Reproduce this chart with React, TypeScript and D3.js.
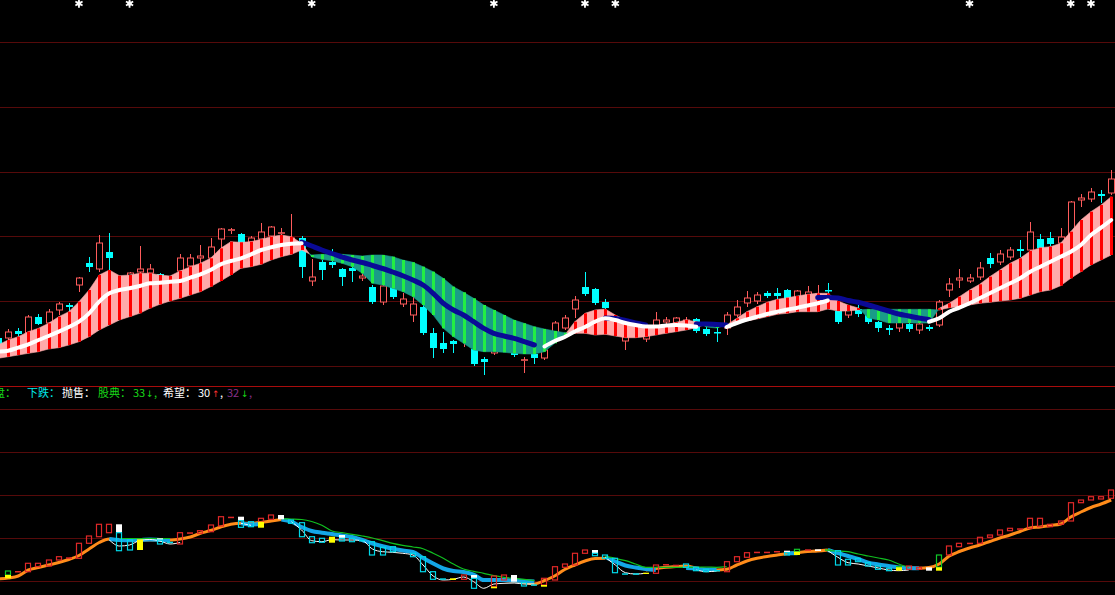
import React from "react";
import * as d3 from "d3";

type N_ = number | null;
const _ = null;

// ---------- main panel: candles (price units) ----------
const open = [6.2,
  6.2, 6.9, 6.7, 8.3, 7.7, 9.0, 9.5, 11.5, 13.7, 13.1,
  14.8, 12.3, 12.3, 12.8, 12.7, 12.6, 12.2, 12.9, 13.4, 14.2,
  14.2, 16.1, 16.9, 16.6, 15.8, 16.1, 16.4, 16.6, 15.8, 16.2,
  11.9, 13.8, 13.8, 13.1, 13.2, 12.2, 11.3, 9.8, 11.3, 9.6,
  8.5, 9.3, 6.7, 5.7, 5.9, 6.1, 5.1, 4.1, 4.7, 5.2,
  4.9, 3.9, 4.6, 4.2, 6.7, 7.2, 9.1, 11.3, 11.1, 9.8,
  8.2, 5.9, 6.3, 6.1, 7.4, 7.8, 7.7, 7.2, 8.1, 7.1,
  6.8, 7.2, 8.5, 9.7, 9.9, 10.7, 10.7, 11.0, 10.2, 10.2,
  10.2, 11.0, 8.9, 8.5, 9.1, 8.6, 7.8, 7.2, 7.2, 7.6,
  7.0, 7.3, 7.5, 11.0, 12.0, 11.9, 12.3, 14.2, 13.8, 14.3,
  15.1, 15.0, 16.1, 16.2, 15.7, 15.5, 20.0, 20.1, 20.6, 20.7];
const close = [5.6,
  6.8, 6.6, 8.3, 7.6, 8.8, 9.6, 9.3, 12.2, 13.3, 15.7,
  14.2, 11.0, 12.7, 13.1, 13.1, 12.3, 11.9, 14.2, 14.2, 14.4,
  15.3, 17.1, 17.0, 15.7, 16.2, 16.8, 17.3, 16.7, 16.2, 13.3,
  12.3, 13.0, 13.5, 12.3, 12.9, 12.4, 9.8, 11.4, 10.3, 10.1,
  9.6, 6.7, 5.2, 5.1, 5.6, 6.2, 3.6, 3.8, 5.2, 5.0,
  4.5, 4.0, 4.2, 5.0, 7.7, 8.2, 10.0, 10.6, 9.7, 9.2,
  7.0, 6.4, 6.4, 6.5, 8.0, 8.0, 8.2, 8.0, 6.9, 6.6,
  6.7, 8.5, 9.3, 10.2, 10.5, 10.4, 10.4, 10.1, 10.9, 10.8,
  10.6, 10.9, 7.8, 9.1, 8.6, 7.8, 7.2, 7.0, 7.8, 7.1,
  7.6, 7.1, 9.8, 11.6, 12.2, 12.2, 13.2, 13.6, 14.6, 15.0,
  14.9, 16.8, 15.2, 15.6, 16.3, 19.8, 20.2, 20.8, 20.4, 22.1];
const high = [6.3,
  7.1, 7.2, 8.5, 8.6, 9.1, 9.8, 9.7, 12.3, 14.3, 16.5,
  16.7, 12.4, 12.8, 15.4, 13.6, 12.7, 12.3, 14.6, 14.6, 15.5,
  16.2, 17.2, 17.2, 16.7, 16.4, 17.7, 17.4, 17.2, 18.6, 16.4,
  14.1, 14.0, 15.1, 13.2, 14.0, 12.7, 11.5, 11.5, 11.5, 10.7,
  10.6, 9.5, 7.2, 6.8, 6.0, 6.2, 5.4, 4.3, 5.5, 5.3,
  5.0, 4.3, 4.8, 5.2, 7.9, 8.5, 10.4, 12.8, 11.2, 10.1,
  8.4, 6.5, 7.3, 6.6, 8.8, 8.3, 8.3, 8.3, 8.2, 7.3,
  7.2, 8.8, 10.0, 10.9, 10.8, 10.9, 11.2, 11.1, 11.0, 11.4,
  11.5, 11.7, 9.0, 9.2, 9.5, 8.8, 7.9, 7.5, 8.0, 7.8,
  7.8, 7.5, 10.0, 12.2, 13.1, 12.6, 13.8, 14.7, 15.0, 15.3,
  16.0, 17.8, 16.6, 16.8, 17.2, 19.9, 20.6, 21.2, 21.0, 23.0];
const low = [5.4,
  5.8, 6.4, 6.4, 7.5, 7.5, 8.5, 8.8, 10.8, 12.8, 12.8,
  13.0, 10.8, 12.0, 12.6, 12.5, 12.0, 11.6, 12.7, 13.2, 13.5,
  13.8, 15.2, 16.6, 15.5, 15.6, 15.9, 16.2, 16.3, 15.5, 12.2,
  11.4, 12.0, 13.2, 11.4, 11.8, 11.9, 9.6, 9.5, 10.1, 9.3,
  7.8, 6.5, 4.2, 4.7, 4.7, 5.3, 3.4, 2.5, 4.5, 4.9,
  4.3, 2.7, 3.6, 4.0, 6.5, 7.0, 8.2, 10.4, 9.5, 9.0,
  6.8, 5.0, 6.2, 5.8, 7.2, 7.5, 7.5, 7.0, 6.7, 6.4,
  5.8, 6.5, 8.3, 9.3, 9.6, 10.2, 10.0, 9.9, 10.0, 10.0,
  9.9, 10.3, 7.6, 8.2, 8.3, 7.6, 6.8, 6.5, 6.8, 6.8,
  6.6, 6.9, 7.3, 10.3, 11.2, 11.7, 12.0, 13.2, 13.5, 14.0,
  14.3, 14.8, 15.0, 15.4, 15.5, 15.3, 19.3, 19.8, 19.7, 20.5];

// band: fast / slow lines
const fast = [5.5,
  6.0, 6.33, 6.83, 7.17, 7.67, 8.33, 8.83, 9.83, 11.0, 12.5,
  13.0, 12.43, 12.5, 12.67, 12.67, 12.5, 12.4, 12.9, 13.33, 13.67,
  14.17, 15.17, 15.83, 15.77, 15.83, 16.07, 16.33, 16.5, 16.33, 15.67,
  14.3, 14.07, 13.93, 13.67, 13.33, 12.67, 11.67, 11.5, 11.17, 10.83,
  10.33, 9.5, 8.5, 7.17, 6.33, 5.67, 5.0, 4.83, 4.83, 4.77,
  4.67, 4.6, 4.6, 4.83, 5.67, 6.5, 7.83, 8.67, 9.0, 9.1,
  8.5, 8.0, 7.67, 7.33, 7.33, 7.5, 7.77, 8.0, 7.83, 7.3,
  7.2, 7.5, 8.17, 8.83, 9.33, 9.77, 10.07, 10.23, 10.4, 10.57,
  10.67, 10.67, 9.9, 9.5, 9.2, 8.2, 8.0, 7.7, 7.7, 7.7,
  7.7, 7.7, 9.17, 9.67, 10.33, 11.0, 11.57, 12.33, 13.0, 13.67,
  14.17, 14.9, 15.23, 15.33, 15.67, 16.83, 18.0, 18.83, 19.5, 20.33];
const slow = [4.17,
  4.33, 4.5, 4.67, 4.83, 5.1, 5.23, 5.5, 5.83, 6.33, 7.0,
  7.5, 8.0, 8.33, 8.67, 9.17, 9.57, 9.9, 10.17, 10.5, 10.83,
  11.33, 11.9, 12.5, 13.17, 13.33, 13.57, 14.0, 14.33, 14.57, 15.0,
  14.5, 14.57, 14.57, 14.57, 14.5, 14.4, 14.5, 14.5, 14.33, 14.0,
  13.77, 13.33, 12.83, 12.17, 11.33, 10.77, 10.17, 9.5, 9.0, 8.5,
  8.0, 7.67, 7.33, 7.1, 6.9, 6.73, 6.67, 6.67, 6.5, 6.57,
  6.4, 6.23, 6.23, 6.33, 6.5, 6.67, 6.83, 7.0, 7.23, 7.6,
  7.5, 7.4, 7.67, 7.9, 8.1, 8.33, 8.57, 8.67, 8.83, 8.83,
  8.83, 9.1, 8.9, 8.9, 9.0, 9.07, 9.07, 9.07, 9.07, 9.07,
  9.07, 9.07, 9.0, 9.23, 9.33, 9.5, 9.67, 9.77, 9.9, 10.0,
  10.17, 10.5, 10.83, 11.0, 11.43, 12.17, 12.83, 13.5, 14.0, 14.5];

const whiteLine: N_[] = [4.83,
  4.93, 5.23, 5.57, 6.0, 6.4, 6.83, 7.3, 7.83, 8.67, 9.83,
  10.67, 11.0, 11.17, 11.4, 11.67, 11.73, 11.83, 11.9, 12.23, 12.57,
  13.0, 13.57, 13.9, 14.17, 14.57, 15.0, 15.27, 15.5, 15.63, 15.67,
  _, _, _, _, _, _, _, _, _, _,
  _, _, _, _, _, _, _, _, _, _,
  _, _, _, 5.35, 5.9, 6.3, 6.85, 7.3, 7.83, 8.17,
  8.0, 7.7, 7.5, 7.35, 7.35, 7.45, 7.5, 7.45, 7.33, _,
  _, 7.3, 7.7, 8.05, 8.33, 8.6, 8.83, 9.05, 9.23, 9.45,
  9.67, 9.95, _, _, _, _, _, _, _, _,
  _, 7.83, 8.17, 8.83, 9.23, 9.67, 10.17, 10.67, 11.17, 11.67,
  12.17, 12.83, 13.33, 13.83, 14.33, 14.83, 15.5, 16.5, 17.23, 18.0];
const blueLine: N_[] = [_,
  _, _, _, _, _, _, _, _, _, _,
  _, _, _, _, _, _, _, _, _, _,
  _, _, _, _, _, _, _, _, _, 15.8,
  15.4, 15.0, 14.65, 14.3, 14.0, 13.75, 13.45, 13.15, 12.8, 12.43,
  12.0, 11.5, 10.67, 9.67, 9.0, 8.5, 7.83, 7.17, 6.67, 6.4,
  6.17, 5.83, 5.5, _, _, _, _, _, _, 8.2,
  8.15, 7.95, 7.7, 7.5, _, _, _, _, 7.6, 7.6,
  7.55, 7.5, _, _, _, _, _, _, _, _,
  10.25, 10.25, 10.2, 9.95, 9.77, 9.5, 9.2, 8.9, 8.6, 8.4,
  8.2, 8.05, _, _, _, _, _, _, _, _,
  _, _, _, _, _, _, _, _, _, _];

const markIdx = [8, 13, 31, 49, 58, 61, 96, 106, 108];

// ---------- lower panel (indicator units) ----------
const orangeLine: N_[] = [2.1,
  2.2, 2.4, 3.0, 3.25, 3.5, 3.75, 4.05, 4.45, 5.1, 5.75,
  6.1, 6.0, 6.0, 6.0, 6.0, 6.0, 6.0, 6.1, 6.3, 6.67,
  6.95, 7.3, 7.57, 7.67, 7.67, 7.75, 7.9, 8.05, _, _,
  _, _, _, _, _, _, _, _, _, _,
  _, _, _, _, _, _, _, 2.0, 2.0, 1.95,
  1.9, 1.75, 1.6, 1.95, 2.4, 3.05, 3.5, 3.9, 4.15, 4.17,
  _, _, _, 3.0, 3.15, 3.27, 3.35, 3.4, 3.2, 3.05,
  3.0, 3.07, 3.5, 3.9, 4.17, 4.35, 4.5, 4.65, 4.75, 4.85,
  4.9, 5.0, _, _, _, _, _, _, 3.27, 3.22,
  3.17, 3.25, 3.6, 4.4, 4.85, 5.2, 5.5, 5.85, 6.2, 6.5,
  6.85, 7.2, 7.3, 7.45, 7.6, 8.3, 8.8, 9.25, 9.6, 10.0];
const skyLine: N_[] = [_,
  _, _, _, _, _, _, _, _, _, _,
  6.1, 6.0, 5.97, 6.0, 6.05, 6.0, 5.95, _, _, _,
  _, _, _, 7.67, 7.55, 7.6, _, 8.05, 7.83, 7.3,
  6.9, 6.73, 6.6, 6.45, 6.3, 6.0, 5.65, 5.37, 5.13, 4.95,
  4.8, 4.2, 3.65, 3.15, 2.9, 2.8, 2.55, 2.0, 2.0, 2.0,
  1.95, 1.9, 1.85, _, _, _, _, _, _, 4.3,
  3.85, 3.45, 3.25, 3.1, 3.0, _, _, 3.2, 3.15, 3.05,
  3.05, _, _, _, _, _, _, 4.67, 4.67, _,
  _, 5.0, 4.7, 4.4, 4.1, 3.73, 3.55, 3.4, 3.25, 3.2,
  3.17, _, _, _, _, _, _, _, _, _,
  _, _, _, _, _, _, _, _, _, _];
const greenLine: N_[] = [_,
  _, _, _, _, _, _, _, _, _, _,
  _, 6.15, 6.15, 6.15, 6.15, 6.15, 6.15, _, _, _,
  _, _, _, _, _, _, _, 8.13, 8.1, 8.05,
  7.85, 7.47, 6.9, 6.73, 6.57, 6.4, 6.2, 5.93, 5.67, 5.47,
  5.3, 5.13, 4.67, 4.17, 3.6, 3.1, 2.87, 2.67, 2.43, 2.27,
  2.17, 2.07, 1.93, _, _, _, _, _, _, 4.33,
  4.17, 3.93, 3.6, 3.27, 3.27, 3.27, 3.27, 3.27, 3.27, 3.3,
  3.27, 3.33, _, _, _, _, _, _, _, _,
  _, 4.93, 4.9, 4.83, 4.6, 4.4, 4.2, 4.0, 3.6, 3.27,
  _, _, _, _, _, _, _, _, _, _,
  _, _, _, _, _, _, _, _, _, _];
const thinWhite: N_[] = [_,
  _, _, _, _, _, _, _, _, _, _,
  6.0, 5.4, 5.5, 5.95, 6.05, 5.9, 5.6, 5.75, _, _,
  _, _, _, 7.67, 7.47, _, _, _, 7.83, 7.0,
  5.93, 5.83, 6.03, 6.0, 6.0, 5.93, 5.1, 4.83, 4.77, 4.67,
  4.5, 3.5, 2.4, 2.0, 2.07, 2.3, 1.83, 1.17, 1.6, 1.67,
  1.7, 1.6, 1.6, _, _, _, _, _, _, 4.27,
  3.5, 2.73, 2.6, 2.67, _, _, _, _, 3.0, 2.83,
  2.9, _, _, _, _, _, _, _, _, _,
  _, 4.93, 4.27, 3.73, 3.6, 3.4, 3.2, 3.0, 2.93, 3.0,
  _, _, _, _, _, _, _, _, _, _,
  _, _, _, _, _, _, _, _, _, _];

const boxKind = ["",
  "g", "r", "r", "r", "r", "r", "r", "r", "r", "r",
  "r", "w", "c", "y", "", "w", "c", "r", "r", "r",
  "r", "r", "r", "w", "c", "r", "r", "w", "c", "c",
  "c", "c", "y", "w", "c", "c", "c", "c", "c", "",
  "c", "c", "c", "c", "y", "r", "w", "", "r", "r",
  "w", "c", "c", "r", "r", "r", "r", "r", "w", "c",
  "c", "c", "c", "y", "r", "r", "r", "c", "c", "c",
  "c", "r", "r", "r", "r", "r", "r", "w", "g", "r",
  "w", "g", "c", "c", "c", "c", "c", "c", "g", "r",
  "r", "w", "g", "r", "r", "r", "r", "r", "r", "r",
  "r", "r", "r", "r", "r", "r", "r", "r", "r", "r"];
const boxHi: N_[] = [_,
  2.9, 2.9, 3.67, 3.67, 4.0, 4.33, 4.27, 5.67, 6.4, 7.57,
  7.57, 7.57, 6.0, 6.07, _, 6.17, 5.83, 6.73, 6.77, 6.93,
  7.5, 8.33, 8.33, 8.33, 7.83, 8.17, 8.5, 8.5, 8.0, 7.73,
  6.33, 6.17, 6.33, 6.5, 6.17, 6.0, 5.83, 5.27, 5.33, _,
  4.67, 4.33, 2.83, 2.17, 2.17, 2.5, 2.5, _, 2.4, 2.5,
  2.5, 1.73, 1.57, 2.17, 3.33, 3.6, 4.67, 5.0, 5.0, 4.5,
  4.17, 2.67, 2.67, 2.73, 3.5, 3.6, 3.53, 3.6, 3.27, 3.07,
  3.0, 3.83, 4.33, 4.73, 4.83, 4.83, 4.9, 4.93, 5.07, 5.07,
  5.07, 5.07, 4.93, 4.07, 4.17, 3.73, 3.4, 3.17, 3.4, 3.4,
  3.27, 3.27, 4.5, 5.4, 5.67, 5.73, 6.27, 6.5, 7.0, 7.17,
  7.17, 8.17, 8.17, 7.57, 7.9, 9.73, 10.0, 10.33, 10.33, 11.0];
const boxLo: N_[] = [_,
  2.5, 2.73, 2.83, 3.33, 3.4, 4.0, 4.13, 4.17, 5.67, 6.33,
  6.73, 6.73, 5.0, 5.0, _, 6.0, 5.67, 5.6, 6.67, 6.67,
  6.83, 7.4, 8.23, 7.93, 7.33, 7.83, 8.07, 8.07, 7.67, 6.33,
  5.73, 5.77, 5.73, 6.17, 5.83, 5.9, 4.5, 4.5, 4.83, _,
  4.33, 2.83, 2.07, 2.0, 2.0, 2.07, 2.17, _, 1.33, 2.0,
  1.83, 1.4, 1.4, 1.5, 2.0, 3.27, 3.5, 4.67, 4.67, 4.17,
  2.73, 2.5, 2.57, 2.6, 2.67, 3.47, 3.4, 3.27, 2.93, 2.83,
  2.83, 2.83, 3.83, 4.27, 4.73, 4.77, 4.77, 4.73, 4.83, 4.93,
  4.9, 4.9, 3.5, 3.5, 3.83, 3.4, 3.07, 2.93, 3.27, 3.07,
  3.07, 2.93, 3.27, 4.5, 5.33, 5.63, 5.67, 6.27, 6.5, 6.93,
  7.1, 7.17, 7.33, 7.33, 7.57, 7.9, 9.73, 10.0, 10.1, 10.17];

const box2Idx = [1, 12, 16, 24, 26, 34, 47, 49, 54, 59, 78, 79, 89, 93];
const box2Hi = [2.5, 6.73, 6.0, 7.93, 7.83, 6.17, 2.17, 1.33, 1.5, 4.67, 4.73, 4.83, 3.27, 3.27];
const box2Lo = [2.17, 4.93, 5.6, 7.27, 7.23, 5.9, 1.17, 1.17, 1.33, 4.43, 4.5, 4.5, 2.93, 2.93];
const box2Kind = ["y", "c", "c", "c", "y", "c", "c", "y", "y", "c", "c", "y", "y", "y"];

const legendItems = [
  { t: "盘：", c: "#18d818", dx: -6, arrow: false },
  { t: "下跌：", c: "#00e8e8", dx: 27, arrow: false },
  { t: "抛售：", c: "#ffffff", dx: 62, arrow: false },
  { t: "股典：", c: "#18d818", dx: 98, arrow: false },
  { t: "33", c: "#18d818", dx: 133, arrow: false },
  { t: "↓", c: "#18d818", dx: 146, arrow: true },
  { t: ",", c: "#18d818", dx: 154, arrow: false },
  { t: "希望：", c: "#ffffff", dx: 163, arrow: false },
  { t: "30", c: "#ffffff", dx: 198, arrow: false },
  { t: "↑", c: "#ff3030", dx: 212, arrow: true },
  { t: ",", c: "#ffffff", dx: 220, arrow: false },
  { t: "32", c: "#883088", dx: 227, arrow: false },
  { t: "↓", c: "#18d818", dx: 241, arrow: true },
  { t: ",", c: "#883088", dx: 249, arrow: false },
];

const W = 1115, H = 595;
const N = open.length;
const xs = d3.scaleLinear().domain([0, N - 1]).range([-2, 1111.2]);
const yP = d3.scaleLinear().domain([0, 40]).range([400, 0]);
const yV = d3.scaleLinear().domain([0, 60]).range([600, 0]);
const mainGrid = d3.range(6).map((i) => 3.4 + 6.48 * i);
const lowGrid = d3.range(5).map((i) => 1.9 + 4.3 * i);

const C = {
  grid: "#560a0a",
  sep: "#a80c0c",
  up: "#ff5c5c",
  down: "#00ffff",
  pink: "#ffaaaa",
  teal: "#1a9c88",
  redStripe: "#ff0000",
  greenStripe: "#22ee44",
  white: "#ffffff",
  navy: "#0a0a96",
  orange: "#ff8c1a",
  sky: "#14a6e6",
  green: "#10c020",
  boxR: "#e02828",
  boxC: "#00d8e8",
  boxG: "#10c828",
  boxW: "#ffffff",
  boxY: "#ffff00",
};

function mkLine(scale: (v: number) => number) {
  return d3
    .line<N_>()
    .defined((v) => v != null)
    .x((_v, i) => xs(i))
    .y((v) => scale(v as number))
    .curve(d3.curveMonotoneX);
}

function LowBox({ k, hi, lo, kind }: { k: number; hi: number; lo: number; kind: string }) {
  const cx = Math.round(xs(k));
  const y1 = yV(hi), y2 = yV(lo);
  const h = Math.max(1, y2 - y1);
  if (kind === "w" || kind === "y") {
    return <rect x={cx - 3} y={y1} width={6} height={h} fill={kind === "w" ? C.boxW : C.boxY} />;
  }
  const col = kind === "r" ? C.boxR : kind === "c" ? C.boxC : C.boxG;
  if (h < 2) return <rect x={cx - 3} y={y1} width={6} height={1.5} fill={col} />;
  return <rect x={cx - 2.5} y={y1} width={5} height={h} fill="none" stroke={col} strokeWidth={1.2} />;
}

export default function App() {
  const idx = d3.range(N);
  const polys: { pts: [number, number][]; up: boolean }[] = [];
  for (let k = 0; k < N - 1; k++) {
    const x0 = xs(k), x1 = xs(k + 1);
    const f0 = fast[k], f1 = fast[k + 1], s0 = slow[k], s1 = slow[k + 1];
    const d0 = f0 - s0, d1 = f1 - s1;
    if (d0 * d1 >= 0) {
      polys.push({ pts: [[x0, yP(f0)], [x1, yP(f1)], [x1, yP(s1)], [x0, yP(s0)]], up: d0 + d1 >= 0 });
    } else {
      const t = d0 / (d0 - d1);
      const xc = x0 + t * (x1 - x0);
      const pc = f0 + t * (f1 - f0);
      polys.push({ pts: [[x0, yP(f0)], [xc, yP(pc)], [x0, yP(s0)]], up: d0 > 0 });
      polys.push({ pts: [[xc, yP(pc)], [x1, yP(f1)], [x1, yP(s1)]], up: d1 > 0 });
    }
  }
  const lineP = mkLine(yP);
  const lineV = mkLine(yV);
  const star = d3.symbol().type(d3.symbolAsterisk).size(48)() || "";

  return (
    <div style={{ position: "fixed", left: 0, top: 0 }}>
      <svg width={W} height={H} style={{ display: "block", background: "#000" }}>
        <rect x={0} y={0} width={W} height={H} fill="#000" />
        {/* grids */}
        {mainGrid.map((g, i) => (
          <line key={"mg" + i} x1={0} x2={W} y1={Math.round(yP(g)) + 0.5} y2={Math.round(yP(g)) + 0.5} stroke={C.grid} />
        ))}
        {lowGrid.map((g, i) => (
          <line key={"lg" + i} x1={0} x2={W} y1={Math.round(yV(g)) + 0.5} y2={Math.round(yV(g)) + 0.5} stroke={C.grid} />
        ))}
        <line x1={0} x2={W} y1={386.5} y2={386.5} stroke={C.sep} />

        {/* candles */}
        {idx.map((k) => {
          const cx = Math.round(xs(k)) + 0.5;
          const up = close[k] >= open[k];
          const yO = yP(open[k]), yC = yP(close[k]);
          const top = Math.min(yO, yC), bot = Math.max(yO, yC);
          const yH = yP(high[k]), yL = yP(low[k]);
          if (up) {
            const flat = bot - top < 1.5;
            return (
              <g key={"c" + k} stroke={C.up} strokeWidth={1}>
                <line x1={cx} x2={cx} y1={yH} y2={top} />
                <line x1={cx} x2={cx} y1={bot} y2={yL} />
                {flat ? (
                  <line x1={cx - 3.5} x2={cx + 3.5} y1={top} y2={top} strokeWidth={1.5} />
                ) : (
                  <rect x={cx - 3} y={top} width={6} height={bot - top} fill="#000" />
                )}
              </g>
            );
          }
          return (
            <g key={"c" + k}>
              <line x1={cx} x2={cx} y1={yH} y2={yL} stroke={C.down} strokeWidth={1} />
              <rect x={cx - 3.5} y={top} width={7} height={Math.max(1.5, bot - top)} fill={C.down} />
            </g>
          );
        })}

        {/* band */}
        {polys.map((p, i) => (
          <polygon
            key={"p" + i}
            points={p.pts.map((q) => q.join(",")).join(" ")}
            fill={p.up ? C.pink : C.teal}
            stroke={p.up ? C.pink : C.teal}
            strokeWidth={0.6}
          />
        ))}
        {idx.map((k) => {
          const a = yP(fast[k]), b = yP(slow[k]);
          const t = Math.min(a, b), h = Math.abs(a - b);
          if (h < 1) return null;
          return (
            <rect key={"s" + k} x={Math.round(xs(k)) - 1} y={t} width={3} height={h}
              fill={fast[k] >= slow[k] ? C.redStripe : C.greenStripe} />
          );
        })}
        <path d={lineP(blueLine) || ""} fill="none" stroke={C.navy} strokeWidth={5} strokeLinecap="round" />
        <path d={lineP(whiteLine) || ""} fill="none" stroke={C.white} strokeWidth={4} strokeLinecap="round" />

        {/* signal markers */}
        {markIdx.map((k) => (
          <g key={"m" + k} transform={`translate(${xs(k)},3.5)`}>
            <path d={star} stroke="#fff" strokeWidth={1.8} fill="none" />
            <circle r={2.2} fill="#fff" />
          </g>
        ))}

        {/* legend */}
        <g fontFamily='"Noto Sans CJK SC", "Noto Sans", sans-serif' fontSize={11}>
          {legendItems.map((it, i) => (
            <text key={"t" + i} x={it.dx} y={397} fill={it.c}
              fontFamily={it.arrow ? '"DejaVu Sans", sans-serif' : undefined}
              fontSize={it.arrow ? 9 : undefined}>{it.t}</text>
          ))}
        </g>

        {/* lower panel */}
        <path d={lineV(orangeLine) || ""} fill="none" stroke={C.orange} strokeWidth={3} />
        <path d={lineV(skyLine) || ""} fill="none" stroke={C.sky} strokeWidth={4} />
        <path d={lineV(greenLine) || ""} fill="none" stroke={C.green} strokeWidth={1.2} />
        <path d={lineV(thinWhite) || ""} fill="none" stroke={C.white} strokeWidth={1} />
        {idx.map((k) =>
          boxKind[k] && boxHi[k] != null ? (
            <LowBox key={"b" + k} k={k} hi={boxHi[k] as number} lo={boxLo[k] as number} kind={boxKind[k]} />
          ) : null
        )}
        {box2Idx.map((k, i) => (
          <LowBox key={"b2" + i} k={k} hi={box2Hi[i]} lo={box2Lo[i]} kind={box2Kind[i]} />
        ))}
      </svg>
    </div>
  );
}
